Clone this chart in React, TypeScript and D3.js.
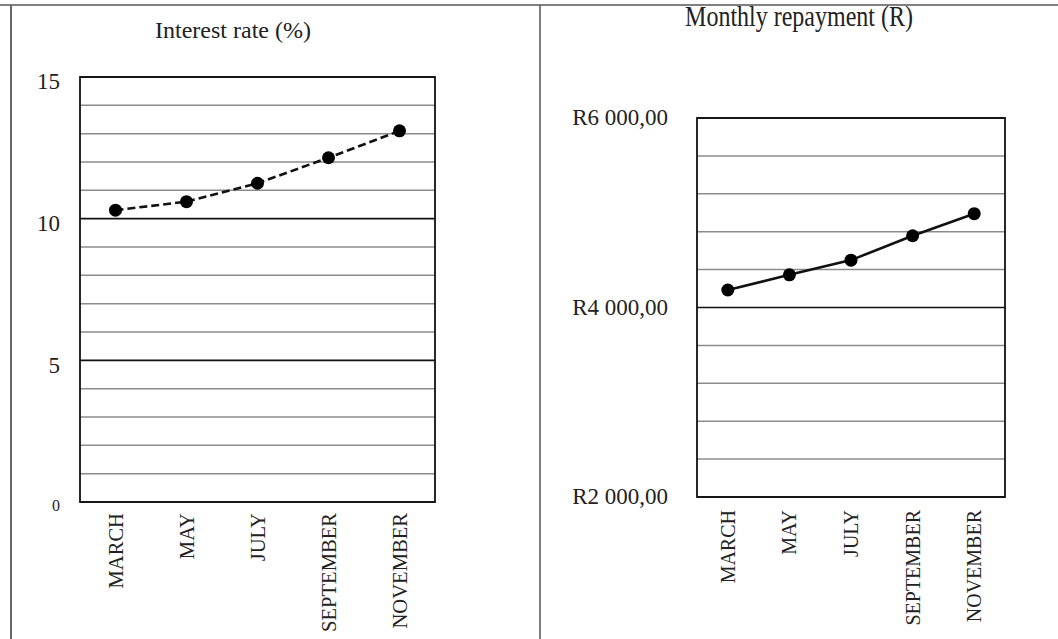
import React from "react";
import * as d3 from "d3";

const months = ["MARCH", "MAY", "JULY", "SEPTEMBER", "NOVEMBER"];
const interestRate = [10.3, 10.6, 11.25, 12.15, 13.1];
const repayment = [4185, 4345, 4500, 4757, 4990];
const rateTicks = [0, 5, 10, 15];
const rateGrid = d3.range(0, 16, 1);
const repayTicks = [2000, 4000, 6000];
const repayGrid = d3.range(2000, 6001, 400);

const W = 1058;
const H = 639;
const serif = "'Liberation Serif', 'Times New Roman', serif";
const fmtR = (v: number) => "R" + d3.format(",")(v).replace(",", " ") + ",00";

export default function App() {
  // left chart
  const lx = d3.scalePoint<string>().domain(months).range([80, 435]).padding(0.5);
  const ly = d3.scaleLinear().domain([0, 15]).range([502, 77]);
  // right chart
  const rx = d3.scalePoint<string>().domain(months).range([697, 1005]).padding(0.5);
  const ry = d3.scaleLinear().domain([2000, 6000]).range([497, 118]);

  const lLine = d3
    .line<number>()
    .x((_, i) => lx(months[i]) as number)
    .y((d) => ly(d));
  const rLine = d3
    .line<number>()
    .x((_, i) => rx(months[i]) as number)
    .y((d) => ry(d));

  return (
    <div style={{ position: "absolute", left: 0, top: 0 }}>
      <svg width={W} height={H} style={{ display: "block", background: "#fff" }}>
        {/* outer table frame */}
        <line x1={0} x2={W} y1={5} y2={5} stroke="#808080" strokeWidth={2} />
        <line x1={11} x2={11} y1={5} y2={H} stroke="#666" strokeWidth={2} />
        <line x1={540} x2={540} y1={5} y2={H} stroke="#555" strokeWidth={1.5} />

        {/* titles */}
        <text x={233} y={38} textAnchor="middle" fontFamily={serif} fontSize={24} fill="#222">
          Interest rate (%)
        </text>
        <text
          transform="translate(799,26) scale(1,1.2)"
          textAnchor="middle"
          fontFamily={serif}
          fontSize={24}
          fill="#222"
        >
          Monthly repayment (R)
        </text>

        {/* LEFT CHART */}
        <g>
          {rateGrid.map((v) => (
            <line
              key={v}
              x1={80}
              x2={435}
              y1={ly(v)}
              y2={ly(v)}
              stroke={v % 5 === 0 ? "#111" : "#8c8c8c"}
              strokeWidth={v % 5 === 0 ? 1.6 : 1.5}
            />
          ))}
          <rect x={80} y={77} width={355} height={425} fill="none" stroke="#111" strokeWidth={1.8} />
          {rateTicks.map((v) => (
            <text
              key={v}
              x={60}
              y={ly(v) + (v === 0 ? 5 : 7)}
              dominantBaseline="middle"
              textAnchor="end"
              fontFamily={serif}
              fontSize={v === 0 ? 16 : 23}
              fill="#222"
            >
              {v}
            </text>
          ))}
          <path d={lLine(interestRate) || ""} fill="none" stroke="#111" strokeWidth={2.6} strokeDasharray="8,4" />
          {interestRate.map((v, i) => (
            <circle key={i} cx={lx(months[i])} cy={ly(v)} r={6.5} fill="#000" />
          ))}
          {months.map((m) => (
            <text
              key={m}
              transform={`translate(${(lx(m) as number) + 7},513) rotate(-90)`}
              textAnchor="end"
              fontFamily={serif}
              fontSize={20.6}
              fill="#222"
            >
              {m}
            </text>
          ))}
        </g>

        {/* RIGHT CHART */}
        <g>
          {repayGrid.map((v) => (
            <line
              key={v}
              x1={697}
              x2={1005}
              y1={ry(v)}
              y2={ry(v)}
              stroke={v % 2000 === 0 ? "#111" : "#8c8c8c"}
              strokeWidth={v % 2000 === 0 ? 1.6 : 1.5}
            />
          ))}
          <rect x={697} y={118} width={308} height={379} fill="none" stroke="#111" strokeWidth={1.8} />
          {repayTicks.map((v) => (
            <text
              key={v}
              x={668}
              y={ry(v) + 2}
              dominantBaseline="middle"
              textAnchor="end"
              fontFamily={serif}
              fontSize={23}
              fill="#222"
            >
              {fmtR(v)}
            </text>
          ))}
          <path d={rLine(repayment) || ""} fill="none" stroke="#111" strokeWidth={2.6} />
          {repayment.map((v, i) => (
            <circle key={i} cx={rx(months[i])} cy={ry(v)} r={6.5} fill="#000" />
          ))}
          {months.map((m) => (
            <text
              key={m}
              transform={`translate(${(rx(m) as number) + 7},510) rotate(-90)`}
              textAnchor="end"
              fontFamily={serif}
              fontSize={20}
              fill="#222"
            >
              {m}
            </text>
          ))}
        </g>
      </svg>
    </div>
  );
}
